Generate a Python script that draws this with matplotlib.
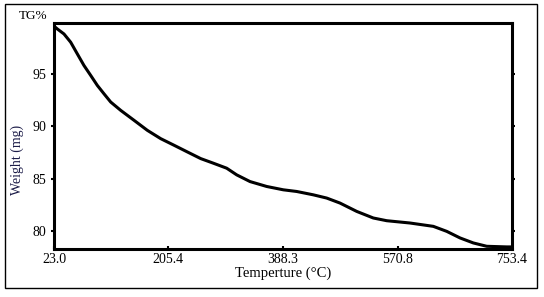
import matplotlib; matplotlib.use("Agg")
import matplotlib.pyplot as plt
from matplotlib.patches import Rectangle

# TG curve
temp = [23.0, 28.3, 38.9, 49.6, 60.2, 70.8, 81.5, 92.1, 102.7, 113.4, 129.4,
        150.6, 171.8, 193.2, 214.4, 235.6, 257.0, 277.1, 298.4, 314.4, 335.6,
        362.2, 388.7, 410.1, 436.5, 457.9, 479.1, 505.8, 532.2, 553.6, 590.7,
        627.9, 649.3, 670.5, 691.7, 713.1, 745.0, 753.4]
weight = [99.6, 99.33, 98.85, 98.06, 96.94, 95.83, 94.88, 93.92, 93.12, 92.33, 91.53,
          90.58, 89.62, 88.82, 88.19, 87.55, 86.91, 86.47, 85.99, 85.35, 84.71,
          84.24, 83.92, 83.76, 83.44, 83.13, 82.65, 81.85, 81.22, 80.96, 80.74,
          80.42, 79.94, 79.31, 78.83, 78.51, 78.45, 78.45]
xticks = [23.0, 205.4, 388.3, 570.8, 753.4]
xticklabels = ["23.0", "205.4", "388.3", "570.8", "753.4"]
yticks = [80, 85, 90, 95]

plt.rcParams["font.family"] = ["Liberation Serif", "DejaVu Serif"]
W, H = 544, 297
fig = plt.figure(figsize=(W / 100, H / 100), dpi=100)
ax = fig.add_axes([54 / W, 1 - 249 / H, (512 - 54) / W, (249 - 23) / H])

ax.plot(temp, weight, color="black", lw=2.2, solid_joinstyle="round",
        solid_capstyle="round")
ax.set_xlim(23.0, 753.4)
ax.set_ylim(78.25, 99.9)
ax.set_xticks(xticks)
ax.set_xticklabels(xticklabels)
ax.set_yticks(yticks)
ax.tick_params(axis="both", labelsize=10, color="black", width=1.5, length=2.5, pad=3)
ax.tick_params(axis="x", direction="in", length=2)
ax.tick_params(axis="y", direction="out", right=True)
for s in ax.spines.values():
    s.set_linewidth(2.2)
ax.set_xlabel("Temperture (°C)", fontsize=10.5, labelpad=0)

fig.text(17 / W, 1 - 160 / H, "Weight (mg)", rotation=90, fontsize=10,
         color="#1c1c48", ha="center", va="center")
fig.text(33 / W, 1 - 16 / H, "TG%", fontsize=9.5, ha="center", va="center")

# thin frame round the whole picture
fig.patches.append(Rectangle((5 / W, 1 - 288 / H), 532 / W, 284 / H,
                             transform=fig.transFigure, fill=False, lw=1.0,
                             edgecolor="black"))

fig.savefig("out.png", dpi=100)
